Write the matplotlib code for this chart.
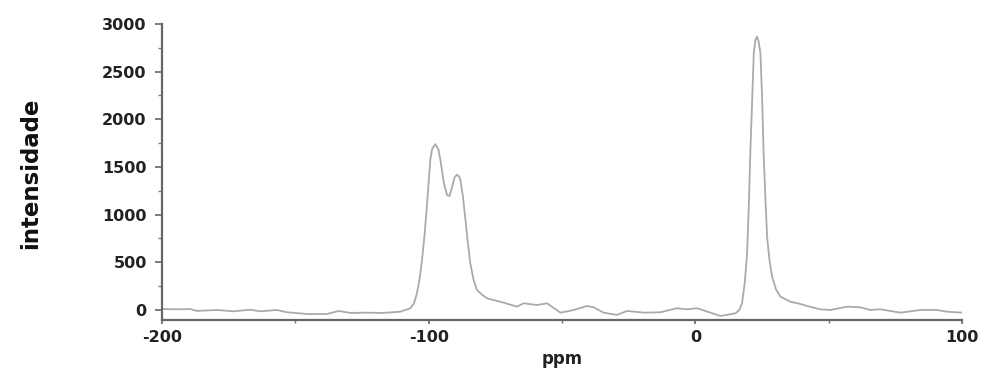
import matplotlib.pyplot as plt
from matplotlib.ticker import MultipleLocator

plt.rcParams["axes.unicode_minus"] = False

# spectrum (ppm, intensity)
ppm = [-200, -193.1, -189.4, -186.9, -179.4, -173.1, -166.9, -163.1, -156.9, -153.1,
       -145.6, -138.1, -133.7, -129.4, -123.1, -118.1, -115.6, -110.6, -106.9, -105.5,
       -104.4, -103.4, -102.5, -101.5, -100.6, -99.4, -98.7, -97.5, -96.3, -95.6,
       -94.3, -93.1, -92.2, -91.2, -90.3, -89.4, -88.6, -88.1, -87.2, -86.2,
       -85.3, -84.4, -83.2, -81.9, -80.0, -78.1, -71.9, -66.9, -64.4, -59.4,
       -55.6, -50.6, -45.6, -40.6, -38.1, -34.4, -29.4, -25.6, -19.4, -13.1,
       -6.9, -3.1, 0.6, 1.9, 9.4, 15.0, 16.5, 17.5, 18.5, 19.4,
       20.0, 20.6, 21.3, 21.9, 22.5, 23.1, 23.7, 24.4, 25.0, 25.6,
       26.3, 26.9, 27.8, 28.8, 30.2, 31.9, 35.6, 39.4, 41.9, 46.9,
       50.6, 56.9, 61.9, 65.6, 69.4, 76.9, 84.4, 90.6, 94.4, 100]
intensity = [10, 7, 10, -10, 0, -14, 3, -14, 0, -24,
             -42, -42, -10, -31, -28, -31, -28, -18, 18, 70,
             175, 330, 525, 800, 1120, 1573, 1690, 1740, 1680, 1573,
             1330, 1205, 1195, 1294, 1390, 1420, 1400, 1364, 1200, 944,
             700, 490, 320, 210, 160, 122, 77, 35, 70, 52,
             70, -28, 0, 42, 28, -28, -52, -10, -28, -24,
             18, 7, 18, 7, -63, -35, 0, 70, 280, 595,
             1050, 1644, 2200, 2693, 2830, 2867, 2820, 2693, 2250, 1644,
             1150, 769, 520, 349, 220, 140, 87, 63, 42, 7,
             0, 35, 28, 0, 7, -28, 0, 0, -18, -28]

x_ticks = [-200, -100, 0, 100]
y_ticks = [0, 500, 1000, 1500, 2000, 2500, 3000]

fig = plt.figure(figsize=(9.86, 3.72), dpi=100)
ax = fig.add_axes([0.1643, 0.1398, 0.8114, 0.7957])

ax.plot(ppm, intensity, color="#aaaaaa", lw=1.3)

ax.set_xlim(-200, 100)
ax.set_ylim(-105, 3000)
ax.set_xticks(x_ticks)
ax.set_yticks(y_ticks)
ax.xaxis.set_minor_locator(MultipleLocator(50))
ax.yaxis.set_minor_locator(MultipleLocator(250))

for side in ["top", "right"]:
    ax.spines[side].set_visible(False)
for side in ["left", "bottom"]:
    ax.spines[side].set_color("#666666")
    ax.spines[side].set_linewidth(1.6)

ax.tick_params(axis="y", which="major", length=5, width=1.2, color="#666666", pad=6)
ax.tick_params(axis="y", which="minor", length=3, width=1, color="#777777")
ax.tick_params(axis="x", which="major", length=3, width=1.2, color="#666666", pad=4)
ax.tick_params(axis="x", which="minor", length=2, width=1, color="#777777")

for lab in ax.get_xticklabels() + ax.get_yticklabels():
    lab.set_fontweight("bold")
    lab.set_fontsize(11.5)
    lab.set_color("#222222")

ax.set_xlabel("ppm", fontsize=12, fontweight="bold", color="#222222", labelpad=4)
fig.text(0.031, 0.535, "intensidade", rotation=90, ha="center", va="center",
         fontsize=16.5, fontweight="bold", color="#111111")

fig.savefig("out.png", dpi=100)
